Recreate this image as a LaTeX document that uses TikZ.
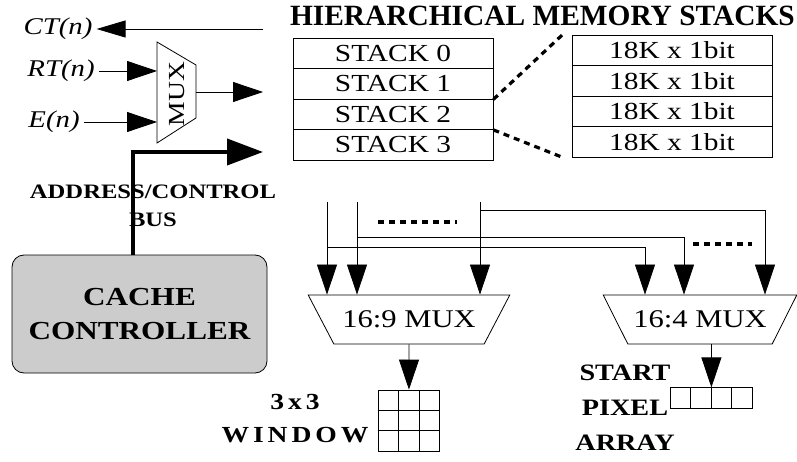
\documentclass[tikz,border=0pt]{standalone}
\usepackage{fontspec}
\setmainfont{Liberation Serif}
\newfontfamily\wide[FakeStretch=1.2]{Liberation Serif}
\usepackage{tikz}
\usetikzlibrary{arrows.meta}
\usetikzlibrary{shapes.geometric}

\begin{document}
\begin{tikzpicture}[x=1pt, y=-1pt,
  wire/.style = {line width=0.8pt},
  stackbox/.style = {draw, wire, minimum width=200pt, minimum height=30.5pt, inner sep=0pt,
    font=\wide\fontsize{24.5}{26}\selectfont},
  cell/.style = {draw, wire, minimum width=20.3pt, minimum height=20.3pt, inner sep=0pt},
  sig/.style = {font=\wide\itshape\fontsize{24}{26}\selectfont, inner sep=4pt},
  lbl/.style = {align=center, inner sep=0pt},
  bigmux/.style = {draw, wire, trapezium, shape border rotate=180, trapezium stretches=true,
    trapezium left angle=45, trapezium right angle=45, minimum height=49pt,
    font=\wide\fontsize{25.5}{26}\selectfont},
  arr/.style = {wire, -{Triangle[length=30pt, width=20pt]}},
  dots/.style = {line width=3.2pt, dash pattern=on 6pt off 5pt}
]
\useasboundingbox (0,0) rectangle (797,462);

\node[font=\bfseries\fontsize{29.4}{30}\selectfont, inner sep=0pt, anchor=east] (title) at (795,16) {HIERARCHICAL MEMORY STACKS};

\foreach \i in {0,...,3} {
  \node[stackbox] (s\i) at (393,{53.25+30.5*\i}) {STACK \i};
  \node[stackbox] (m\i) at (672,{50.25+30.5*\i}) {18K x 1bit};
}
\draw[dots] (s1.south east) -- ([xshift=-9pt]m0.north west);
\draw[dots] (s2.south east) -- ([xshift=-9pt]m3.south west);

% small mux
\node[sig] (ct) at (58,29) {CT(n)};
\node[sig] (rt) at (61,71) {RT(n)};
\node[sig] (en) at (54,122) {E(n)};
\draw[wire] (157,42) -- (196,65) -- (196,118) -- (157,143) -- cycle;
\node[rotate=90, font=\wide\fontsize{23}{23}\selectfont] (mux) at (177,94) {MUX};
\coordinate (ct src) at (263,29);
\coordinate (mux in1) at (157,71);
\coordinate (mux in2) at (157,122);
\coordinate (mux out) at (196,92);
\coordinate (mux dst) at (263,92);
\draw[wire, -{Triangle[length=29pt, width=17pt]}] (ct src) -- (ct);
\draw[arr] (rt) -- (mux in1);
\draw[arr] (en) -- (mux in2);
\draw[arr] (mux out) -- (mux dst);

\node[lbl, font=\wide\bfseries\fontsize{20.5}{28}\selectfont] (addr) at (153,206) {ADDRESS/CONTROL\\BUS};
\node[draw, wire, fill=gray!40, rounded corners=12pt, minimum width=255pt, minimum height=118pt,
  align=center, font=\wide\bfseries\fontsize{26}{34}\selectfont] (cc) at (139.5,314) {CACHE\\CONTROLLER};
\coordinate (bus end) at (263,152);
\draw[line width=4pt, -{Triangle[length=36pt, width=26pt]}] ([xshift=-6.5pt]cc.north) |- (bus end);

% stack outputs to the two muxes
\node[bigmux, minimum width=202pt] (mux9) at (409,319.5) {16:9 MUX};
\node[bigmux, minimum width=194pt] (mux4) at (700,319.5) {16:4 MUX};
\coordinate (in a) at (327,202);
\coordinate (in b) at (357,202);
\coordinate (in c) at (480,202);
\draw[arr] (in a) -- (in a |- mux9.north);
\draw[arr] (in b) -- (in b |- mux9.north);
\draw[arr] (in c) -- (in c |- mux9.north);
\draw[arr] (in a |- 0,247) -| ([xshift=-55pt]mux4.north);
\draw[arr] (in b |- 0,237) -| ([xshift=-16pt]mux4.north);
\draw[arr] (in c |- 0,210) -| ([xshift=65pt]mux4.north);
\draw[dots] (378,222) -- (457,222);
\draw[dots] (693,244) -- (752,244);

\foreach \r in {1,2,3}
  \foreach \c in {1,2,3}
    \node[cell] (w\r\c) at ({378.5+20.3*(\c-0.5)},{390+20.3*(\r-0.5)}) {};
\foreach \c in {1,...,4}
  \node[cell, minimum width=20.5pt] (p\c) at ({670+20.5*(\c-0.5)},398) {};
\draw[arr] (mux9.south) -- (w12.north);
\draw[arr] (mux4.south -| p2.north east) -- (p2.north east);

\node[lbl, font=\wide\bfseries\fontsize{23}{33}\selectfont\addfontfeature{LetterSpace=17}] (win) at (295,418.5) {3x3\\WINDOW};
\node[lbl, font=\wide\bfseries\fontsize{23.5}{35}\selectfont] (spa) at (625,407.5) {START\\PIXEL\\ARRAY};
\end{tikzpicture}
\end{document}
